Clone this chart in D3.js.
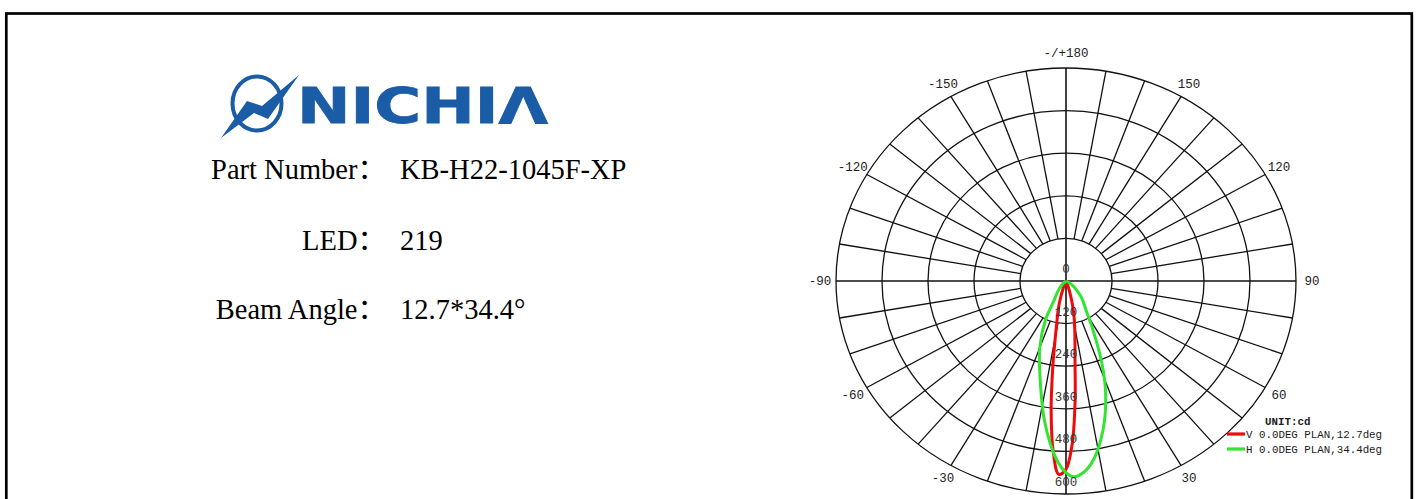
<!DOCTYPE html>
<html>
<head>
<meta charset="utf-8">
<script src="https://cdn.jsdelivr.net/npm/d3@7"></script>
<style>
  html, body { margin: 0; padding: 0; background: #fff; }
  svg { display: block; }
</style>
</head>
<body>
<div id="chart"></div>
<script>
// ---------- data ----------
const infoLabels = ["Part Number：", "LED：", "Beam Angle："];
const infoValues = ["KB-H22-1045F-XP", "219", "12.7*34.4°"];

const angleTicks = [-150, -120, -90, -60, -30, 30, 60, 90, 120, 150, 180];
const angleTickLabels = ["-150", "-120", "-90", "-60", "-30", "30", "60", "90", "120", "150", "-/+180"];
const radialTicks = [0, 120, 240, 360, 480, 600];

// V plane (red), angle in degrees (0 = down), intensity in cd
const vAngles = [-30, -20, -16, -14, -12, -10, -8, -6, -4, -2, 0, 2, 4, 6, 8, 10, 12, 14, 16, 20, 30];
const vValues = [0, 20, 60, 85, 112, 160, 250, 370, 480, 545, 530, 460, 340, 225, 168, 130, 100, 70, 45, 15, 0];

// H plane (green)
const hAngles = [-60, -45, -35, -30, -26, -20, -14, -8, -3, 0, 2, 5, 8, 13, 18, 22, 27, 32, 40, 50, 60, 75];
const hValues = [0, 15, 40, 60, 123, 200, 280, 400, 500, 540, 552, 540, 510, 430, 335, 250, 155, 100, 65, 30, 10, 0];

const legendTitle = "UNIT:cd";
const legendLabels = ["V 0.0DEG PLAN,12.7deg", "H 0.0DEG PLAN,34.4deg"];
const seriesColors = ["#f00a0a", "#33e433"];

// ---------- drawing ----------
const W = 1416, H = 499;
const svg = d3.select("#chart").append("svg").attr("width", W).attr("height", H);

// frame
svg.append("rect").attr("x", 6.3).attr("y", 13.5).attr("width", 1405.5).attr("height", 600)
  .attr("fill", "none").attr("stroke", "#000").attr("stroke-width", 2.7);

// logo
const blue = "#1b5ca7";
const logo = svg.append("g");
logo.append("ellipse").attr("cx", 257).attr("cy", 103.5).attr("rx", 24.5).attr("ry", 27)
  .attr("fill", "none").attr("stroke", blue).attr("stroke-width", 4);
logo.append("path")
  .attr("d", "M221,138 L247,101 L262,106 L299,75 L268,119 L254,113 Z")
  .attr("fill", blue);
logo.append("text").attr("x", 297).attr("y", 123)
  .attr("font-family", "'DejaVu Sans', 'Liberation Sans', sans-serif")
  .attr("font-weight", "bold").attr("font-size", 49)
  .attr("textLength", 251).attr("lengthAdjust", "spacingAndGlyphs")
  .attr("stroke", blue).attr("stroke-width", 0.8)
  .attr("fill", blue).text("NICHIΛ");

// info text
const infoY = [179, 250, 319];
const info = svg.append("g").attr("font-family", "'Liberation Serif', 'Times New Roman', 'Noto Sans CJK SC', serif")
  .attr("font-size", 28.5).attr("fill", "#000");
info.selectAll("text.lab").data(infoLabels).join("text").attr("class", "lab")
  .attr("x", 386).attr("y", (d, i) => infoY[i]).attr("text-anchor", "end").text(d => d);
info.selectAll("text.val").data(infoValues).join("text").attr("class", "val")
  .attr("x", 400).attr("y", (d, i) => infoY[i]).text(d => d);

// polar chart
const cx = 1066, cy = 281;
const rX = d3.scaleLinear().domain([0, 600]).range([0, 230]);
const rY = d3.scaleLinear().domain([0, 600]).range([0, 213]);
const rad = d => d * Math.PI / 180;
const pt = (a, v) => [cx + rX(v) * Math.sin(rad(a)), cy + rY(v) * Math.cos(rad(a))];

const grid = svg.append("g").attr("stroke", "#111").attr("stroke-width", 1.3).attr("fill", "none");
grid.selectAll("ellipse").data(radialTicks.filter(d => d > 0)).join("ellipse")
  .attr("cx", cx).attr("cy", cy).attr("rx", d => rX(d)).attr("ry", d => rY(d));

const spokes = d3.range(0, 360, 10);
grid.selectAll("line").data(spokes).join("line")
  .attr("x1", d => pt(d, d % 90 === 0 ? 0 : radialTicks[1])[0])
  .attr("y1", d => pt(d, d % 90 === 0 ? 0 : radialTicks[1])[1])
  .attr("x2", d => pt(d, 600)[0])
  .attr("y2", d => pt(d, 600)[1])
  .attr("stroke-width", d => d % 90 === 0 ? 1.6 : 1.3);

// curves
const line = d3.line().curve(d3.curveCatmullRom.alpha(0.5));
const series = [
  { a: vAngles, v: vValues, c: seriesColors[0] },
  { a: hAngles, v: hValues, c: seriesColors[1] }
];
svg.append("g").selectAll("path").data(series).join("path")
  .attr("d", s => line(s.a.map((a, i) => pt(a, s.v[i]))))
  .attr("fill", "none").attr("stroke", s => s.c).attr("stroke-width", 3)
  .attr("stroke-linejoin", "round");

// radial labels
svg.append("g").attr("font-family", "'Liberation Mono', 'Courier New', monospace")
  .attr("font-size", 12.5).attr("fill", "#333")
  .selectAll("text").data(radialTicks).join("text")
  .attr("x", cx).attr("y", d => cy + rY(d) - 8).attr("text-anchor", "middle").text(d => d);

// angle labels
svg.append("g").attr("font-family", "'Liberation Mono', 'Courier New', monospace")
  .attr("font-size", 12.5).attr("fill", "#222")
  .selectAll("text").data(angleTicks).join("text")
  .attr("x", d => cx + rX(600) * 1.07 * Math.sin(rad(d)))
  .attr("y", d => cy + rY(600) * 1.07 * Math.cos(rad(d)) + 4)
  .attr("text-anchor", "middle").text((d, i) => angleTickLabels[i]);

// legend
const lg = svg.append("g").attr("font-family", "'Liberation Mono', 'Courier New', monospace")
  .attr("font-size", 10.8).attr("fill", "#1a1a1a");
lg.append("text").attr("x", 1265).attr("y", 425).attr("font-weight", "bold").text(legendTitle);
const legY = [434, 449];
lg.selectAll("line").data(legendLabels).join("line")
  .attr("x1", 1227).attr("x2", 1245).attr("y1", (d, i) => legY[i]).attr("y2", (d, i) => legY[i])
  .attr("stroke", (d, i) => seriesColors[i]).attr("stroke-width", 3.2);
lg.selectAll("text.l").data(legendLabels).join("text").attr("class", "l")
  .attr("x", 1246).attr("y", (d, i) => legY[i] + 3.5).text(d => d);
</script>
</body>
</html>
